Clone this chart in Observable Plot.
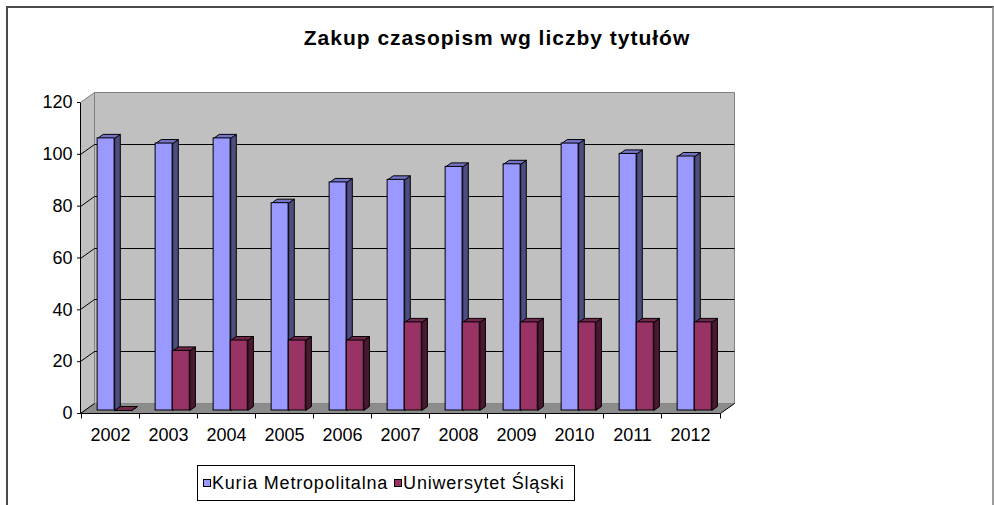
<!DOCTYPE html>
<html>
<head>
<meta charset="utf-8">
<script src="https://cdn.jsdelivr.net/npm/d3@7"></script>
<script src="https://cdn.jsdelivr.net/npm/@observablehq/plot@0.6"></script>
<style>
  html, body { margin: 0; padding: 0; background: #fff; }
  #wrap { position: relative; width: 994px; height: 505px; overflow: hidden; font-family: "Liberation Sans", Arial, sans-serif; color: #000; }
  #border { position: absolute; left: 6px; top: 6px; width: 984px; height: 560px; border-top: 2px solid #4a4a4a; border-left: 2px solid #4a4a4a; border-right: 2px solid #9c9c9c; pointer-events: none; }
  #title { height: 60px; box-sizing: border-box; padding-top: 27px; text-align: center; font-size: 21px; font-weight: bold; line-height: 22px; letter-spacing: 1px; }
  #chart svg { display: block; }
  #legendRow { position: relative; height: 45px; }
  #legend { position: absolute; left: 197px; top: 5px; width: 378px; height: 36px; border: 1px solid #000; display: flex; align-items: center; box-sizing: border-box; padding-left: 5px; font-size: 18px; letter-spacing: 0.8px; white-space: nowrap; }
  .sw { display: inline-block; width: 6px; height: 6px; border: 1px solid #000; margin-right: 1px; }
  .item { display: flex; align-items: center; margin-right: 6px; }
</style>
</head>
<body>
<div id="wrap">
  <div id="title"></div>
  <div id="chart"></div>
  <div id="legendRow"><div id="legend"></div></div>
  <div id="border"></div>
</div>
<script>
// ---- data ----
const title = "Zakup czasopism wg liczby tytułów";
const years = ["2002","2003","2004","2005","2006","2007","2008","2009","2010","2011","2012"];
const kuria = [105, 103, 105, 80, 88, 89, 94, 95, 103, 99, 98];
const uniwersytet = [0, 23, 27, 27, 27, 34, 34, 34, 34, 34, 34];
const seriesNames = ["Kuria Metropolitalna", "Uniwersytet Śląski"];
const yTicks = [0, 20, 40, 60, 80, 100, 120];

// ---- styling / layout ----
const faces = [
  {front: "#9999FF", side: "#4D4D80", top: "#7474C8"},
  {front: "#993366", side: "#4A1830", top: "#73264D"}
];
const W = 994, H = 400, ML = 80, MR = 274, MT = 42, MB = 47;
const DEPTH = [14, -10];     // pixel depth vector of the 3D box
const FRONT = 0.3, THICK = 0.4;
const BAR_START = 0.205, BAR_W = 0.295;
const bandW = (W - ML - MR) / years.length;

const series = [kuria, uniwersytet];
const rows = years.flatMap((yr, i) => series.map((vals, k) => ({year: yr, series: k, value: vals[i]})));

document.getElementById("title").textContent = title;

const pts = (p) => p.map(q => q.join(",")).join(" ");

function backdrop(index, scales) {
  const x = scales.x, y = scales.y;
  const [x0, x1] = x.range();
  const b0 = y(0), bt = y(yTicks[yTicks.length - 1]);
  const [dx, dy] = DEPTH;
  const g = d3.create("svg:g").attr("transform", "translate(0.5,0.5)");
  g.append("polygon").attr("points", pts([[x0, b0], [x0 + dx, b0 + dy], [x0 + dx, bt + dy], [x0, bt]]))
    .attr("fill", "#C0C0C0").attr("stroke", "#808080");
  g.append("polygon").attr("points", pts([[x0 + dx, b0 + dy], [x1 + dx, b0 + dy], [x1 + dx, bt + dy], [x0 + dx, bt + dy]]))
    .attr("fill", "#C0C0C0").attr("stroke", "#808080");
  g.append("polygon").attr("points", pts([[x0, b0], [x1, b0], [x1 + dx, b0 + dy], [x0 + dx, b0 + dy]]))
    .attr("fill", "#8C8C8C").attr("stroke", "none");
  for (const t of yTicks) {
    const yy = Math.round(y(t));
    if (t > 0 && t < yTicks[yTicks.length - 1]) {
      g.append("line").attr("x1", x0 + dx).attr("x2", x1 + dx).attr("y1", yy + dy).attr("y2", yy + dy).attr("stroke", "#000");
    }
    if (t < yTicks[yTicks.length - 1]) {
      g.append("line").attr("x1", x0).attr("x2", x0 + dx).attr("y1", yy).attr("y2", yy + dy).attr("stroke", "#000");
    }
  }
  return g.node();
}

function bar3d(k) {
  return (index, scales) => {
    const x = scales.x, y = scales.y;
    const bw = typeof x.bandwidth === "function" ? x.bandwidth() : bandW;
    const [dx, dy] = DEPTH;
    const ox = dx * FRONT, oy = dy * FRONT, tx = dx * THICK, ty = dy * THICK;
    const g = d3.create("svg:g").attr("transform", "translate(0.5,0.5)");
    for (const r of rows.filter(r => r.series === k)) {
      const L = x(r.year) + bw * (BAR_START + BAR_W * k) + ox;
      const R = L + bw * BAR_W;
      const T = y(r.value) + oy, B = y(0) + oy;
      g.append("polygon").attr("points", pts([[R, B], [R + tx, B + ty], [R + tx, T + ty], [R, T]]))
        .attr("fill", faces[k].side).attr("stroke", "#000");
      g.append("polygon").attr("points", pts([[L, T], [R, T], [R + tx, T + ty], [L + tx, T + ty]]))
        .attr("fill", faces[k].top).attr("stroke", "#000");
    }
    return g.node();
  };
}

function frontBars(k) {
  const [dx, dy] = DEPTH;
  return Plot.barY(rows.filter(r => r.series === k), {
    x: "year", y: "value",
    fill: faces[k].front, stroke: "#000", strokeWidth: 1,
    dx: dx * FRONT, dy: dy * FRONT,
    insetLeft: bandW * (BAR_START + BAR_W * k),
    insetRight: bandW * (1 - BAR_START - BAR_W * (k + 1))
  });
}

function axisLines(index, scales) {
  const x = scales.x, y = scales.y;
  const [x0, x1] = x.range();
  const b0 = Math.round(y(0)), bt = Math.round(y(yTicks[yTicks.length - 1]));
  const [dx, dy] = DEPTH;
  const g = d3.create("svg:g").attr("transform", "translate(0.5,0.5)").attr("stroke", "#000");
  g.append("line").attr("x1", x0).attr("x2", x0).attr("y1", bt).attr("y2", b0);
  g.append("line").attr("x1", x0).attr("x2", x1).attr("y1", b0).attr("y2", b0);
  g.append("line").attr("x1", x1).attr("x2", x1 + dx).attr("y1", b0).attr("y2", b0 + dy);
  const edges = years.map(yr => Math.round(x(yr))).concat([Math.round(x1)]);
  for (const e of edges) {
    g.append("line").attr("x1", e).attr("x2", e).attr("y1", b0).attr("y2", b0 + 5);
  }
  return g.node();
}

const chart = Plot.plot({
  width: W, height: H,
  marginLeft: ML, marginRight: MR, marginTop: MT, marginBottom: MB,
  style: {fontFamily: '"Liberation Sans", Arial, sans-serif', fontSize: "18px", color: "#000", background: "transparent", overflow: "visible"},
  x: {type: "band", domain: years, padding: 0, label: null, tickSize: 0, tickPadding: 15},
  y: {domain: [0, 120], ticks: yTicks, tickSize: 3, tickPadding: 5, label: null},
  marks: [
    backdrop,
    bar3d(0),
    frontBars(0),
    bar3d(1),
    frontBars(1),
    axisLines
  ]
});
document.getElementById("chart").appendChild(chart);

// legend
const legend = document.getElementById("legend");
seriesNames.forEach((name, k) => {
  const item = document.createElement("span");
  item.className = "item";
  const sw = document.createElement("span");
  sw.className = "sw";
  sw.style.background = faces[k].front;
  item.appendChild(sw);
  item.appendChild(document.createTextNode(name));
  legend.appendChild(item);
});
</script>
</body>
</html>
